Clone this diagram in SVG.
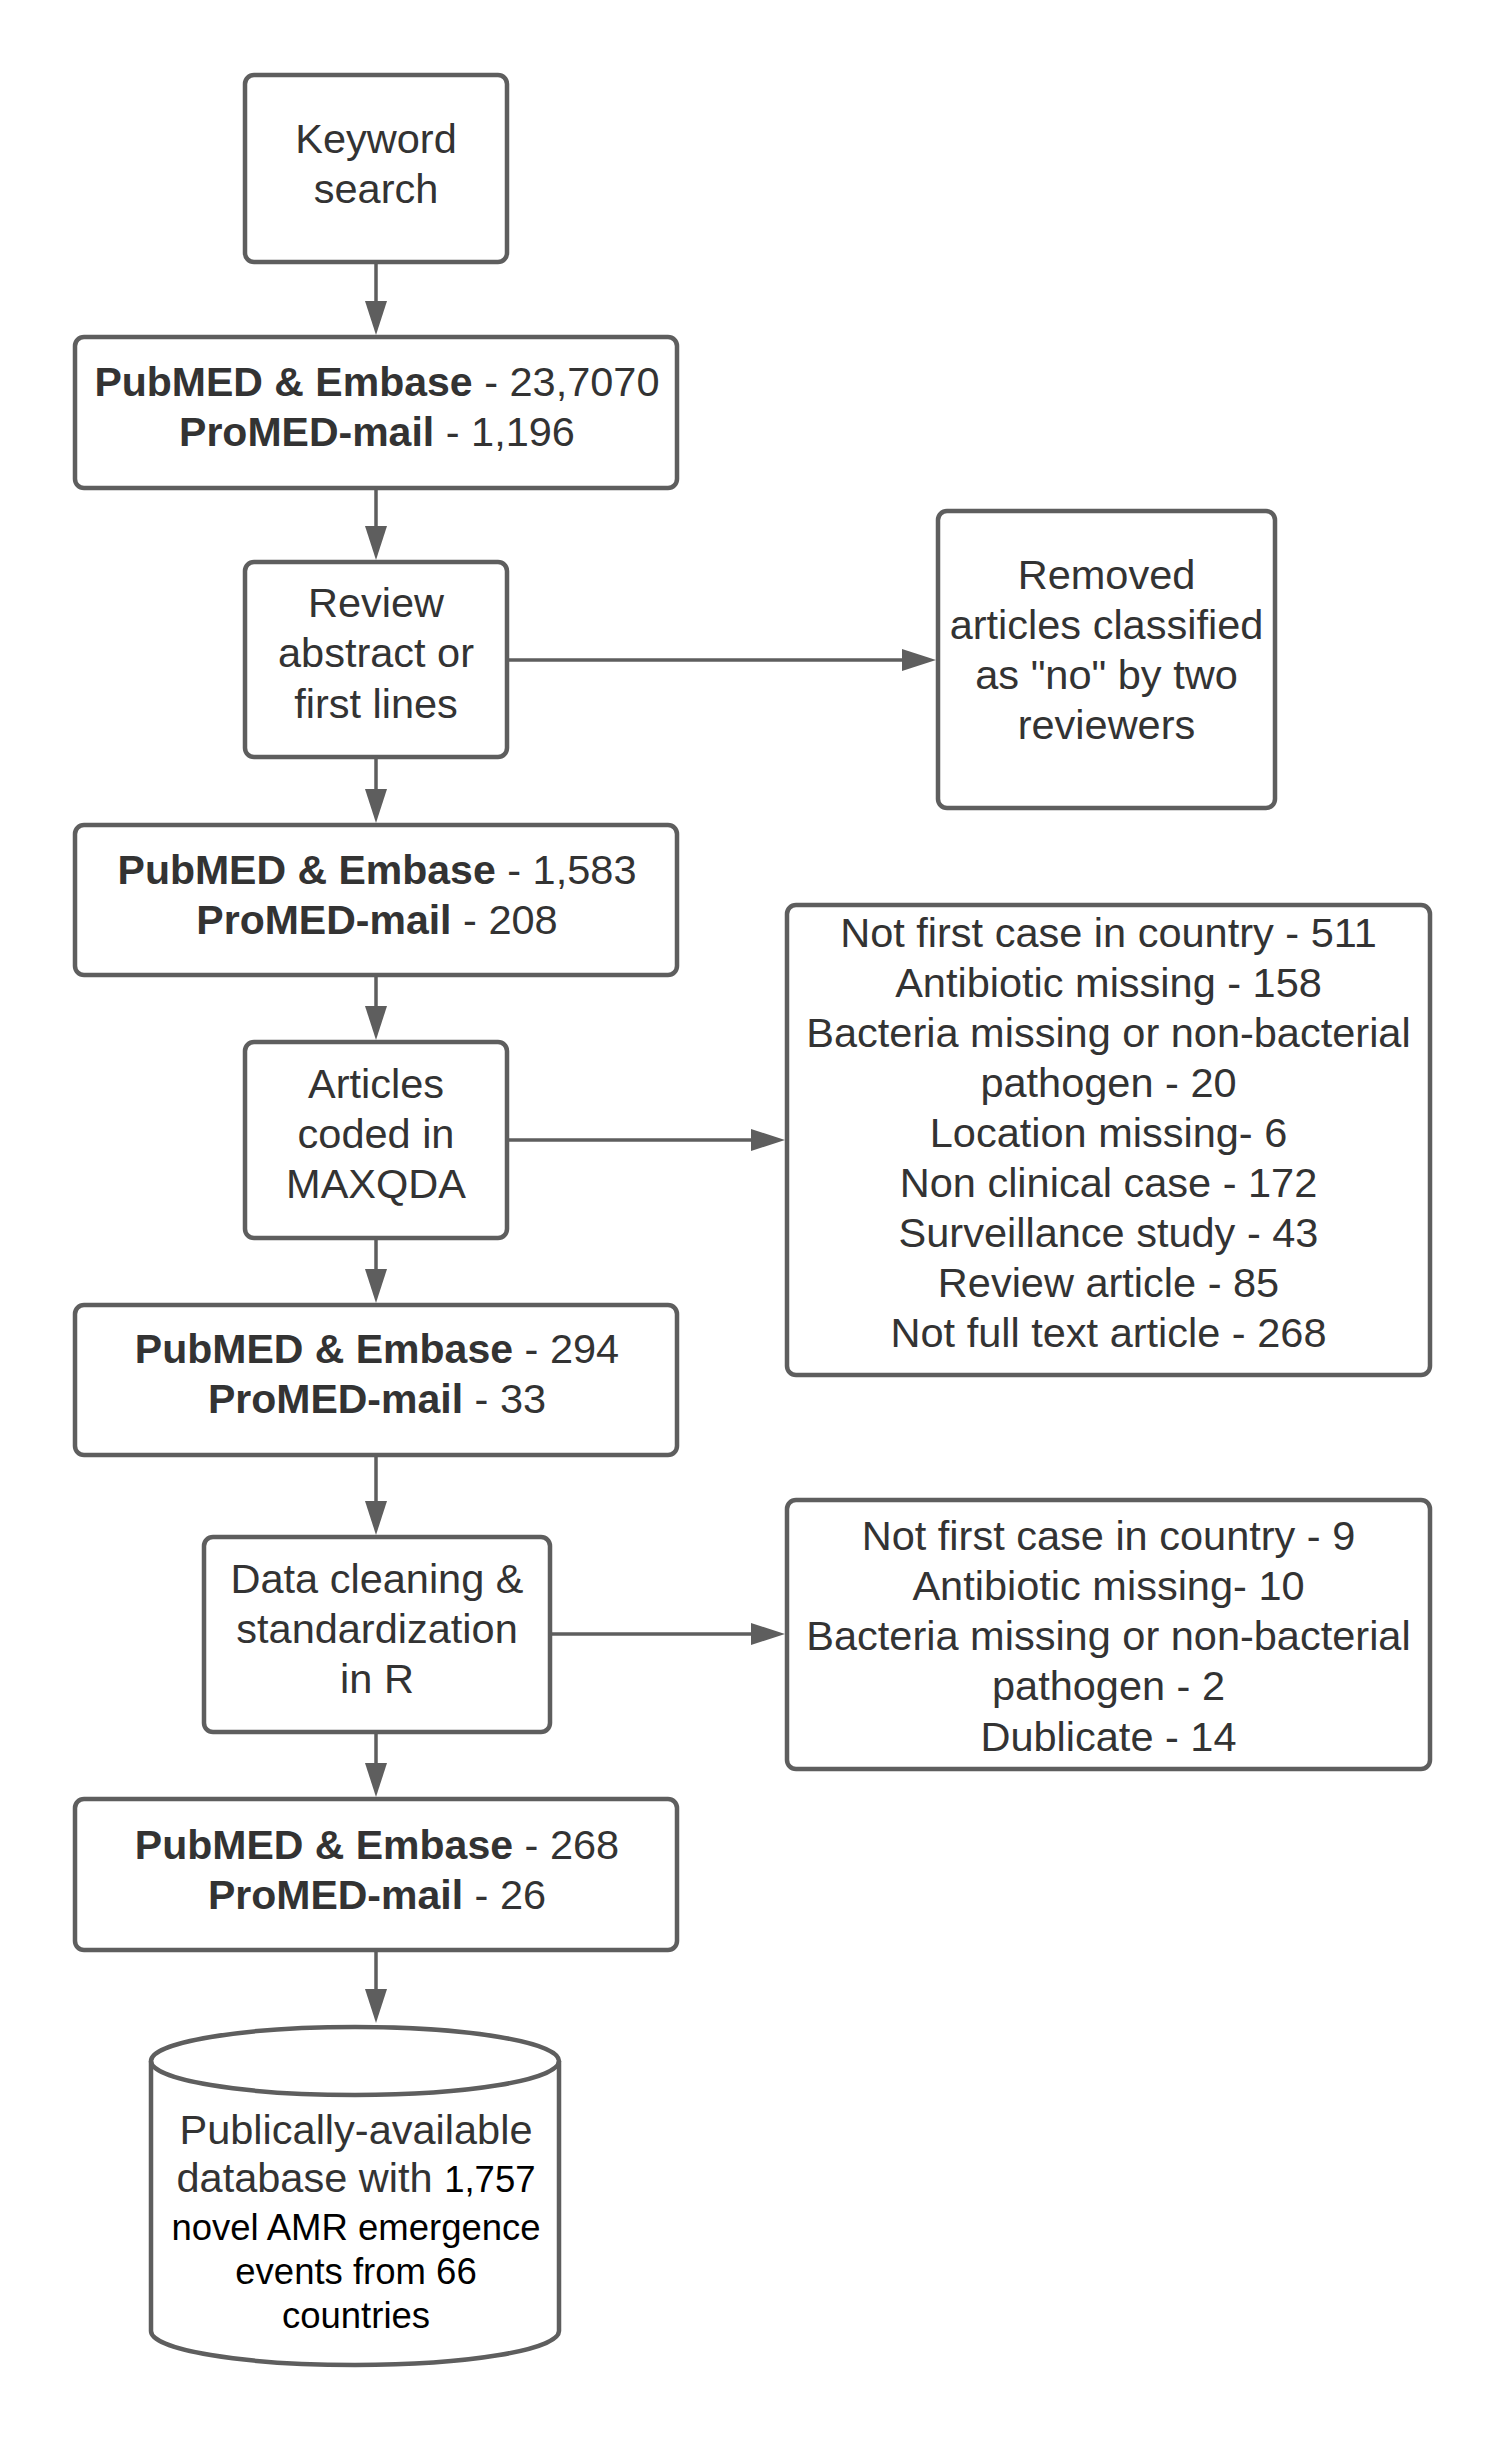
<svg xmlns="http://www.w3.org/2000/svg" width="1504" height="2438" viewBox="0 0 1504 2438">
<style>
.box{fill:#ffffff;stroke:#5e5e5e;stroke-width:4.5}
.ln{fill:none;stroke:#5e5e5e;stroke-width:3.5}
text{font-family:"Liberation Sans",Arial,sans-serif;font-size:41.5px;fill:#333333;text-anchor:middle}
.b{font-weight:bold;font-size:41px}
.k{fill:#000000;font-size:36.5px}
</style>
<defs>
<marker id="ah" markerUnits="userSpaceOnUse" markerWidth="34" markerHeight="22" refX="0" refY="11" orient="auto">
<path d="M0,0 L34,11 L0,22 Z" fill="#5e5e5e"/>
</marker>
</defs>
<rect width="1504" height="2438" fill="#ffffff"/>
<g id="connectors">
<line class="ln" x1="376" y1="264" x2="376" y2="301" marker-end="url(#ah)"/>
<line class="ln" x1="376" y1="490" x2="376" y2="526" marker-end="url(#ah)"/>
<line class="ln" x1="376" y1="759" x2="376" y2="789" marker-end="url(#ah)"/>
<line class="ln" x1="376" y1="977" x2="376" y2="1006" marker-end="url(#ah)"/>
<line class="ln" x1="376" y1="1240" x2="376" y2="1269" marker-end="url(#ah)"/>
<line class="ln" x1="376" y1="1457" x2="376" y2="1501" marker-end="url(#ah)"/>
<line class="ln" x1="376" y1="1734" x2="376" y2="1763" marker-end="url(#ah)"/>
<line class="ln" x1="376" y1="1952" x2="376" y2="1989" marker-end="url(#ah)"/>
<line class="ln" x1="509" y1="660" x2="902" y2="660" marker-end="url(#ah)"/>
<line class="ln" x1="509" y1="1140" x2="751" y2="1140" marker-end="url(#ah)"/>
<line class="ln" x1="552" y1="1634" x2="751" y2="1634" marker-end="url(#ah)"/>
</g>
<g id="keyword">
<rect class="box" x="245" y="75" width="262" height="187" rx="9"/>
<text x="376" y="153">Keyword</text>
<text x="376" y="203">search</text>
</g>
<g id="counts1">
<rect class="box" x="75" y="337" width="602" height="151" rx="9"/>
<text x="377" y="396"><tspan class="b">PubMED &amp; Embase</tspan> - 23,7070</text>
<text x="377" y="446"><tspan class="b">ProMED-mail</tspan> - 1,196</text>
</g>
<g id="review">
<rect class="box" x="245" y="562" width="262" height="195" rx="9"/>
<text x="376" y="617">Review</text>
<text x="376" y="667">abstract or</text>
<text x="376" y="718">first lines</text>
</g>
<g id="removed">
<rect class="box" x="938" y="511" width="337" height="297" rx="9"/>
<text x="1106.5" y="589">Removed</text>
<text x="1106.5" y="639">articles classified</text>
<text x="1106.5" y="689">as "no" by two</text>
<text x="1106.5" y="739">reviewers</text>
</g>
<g id="counts2">
<rect class="box" x="75" y="825" width="602" height="150" rx="9"/>
<text x="377" y="884"><tspan class="b">PubMED &amp; Embase</tspan> - 1,583</text>
<text x="377" y="934"><tspan class="b">ProMED-mail</tspan> - 208</text>
</g>
<g id="coded">
<rect class="box" x="245" y="1042" width="262" height="196" rx="9"/>
<text x="376" y="1098">Articles</text>
<text x="376" y="1148">coded in</text>
<text x="376" y="1198">MAXQDA</text>
</g>
<g id="excluded1">
<rect class="box" x="787" y="905" width="643" height="470" rx="9"/>
<text x="1108.5" y="947">Not first case in country - 511</text>
<text x="1108.5" y="997">Antibiotic missing - 158</text>
<text x="1108.5" y="1047">Bacteria missing or non-bacterial</text>
<text x="1108.5" y="1097">pathogen - 20</text>
<text x="1108.5" y="1147">Location missing- 6</text>
<text x="1108.5" y="1197">Non clinical case - 172</text>
<text x="1108.5" y="1247">Surveillance study - 43</text>
<text x="1108.5" y="1297">Review article - 85</text>
<text x="1108.5" y="1347">Not full text article - 268</text>
</g>
<g id="counts3">
<rect class="box" x="75" y="1305" width="602" height="150" rx="9"/>
<text x="377" y="1363"><tspan class="b">PubMED &amp; Embase</tspan> - 294</text>
<text x="377" y="1413"><tspan class="b">ProMED-mail</tspan> - 33</text>
</g>
<g id="cleaning">
<rect class="box" x="204" y="1537" width="346" height="195" rx="9"/>
<text x="377" y="1593">Data cleaning &amp;</text>
<text x="377" y="1643">standardization</text>
<text x="377" y="1693">in R</text>
</g>
<g id="excluded2">
<rect class="box" x="787" y="1500" width="643" height="269" rx="9"/>
<text x="1108.5" y="1550">Not first case in country - 9</text>
<text x="1108.5" y="1600">Antibiotic missing- 10</text>
<text x="1108.5" y="1650">Bacteria missing or non-bacterial</text>
<text x="1108.5" y="1700">pathogen - 2</text>
<text x="1108.5" y="1751">Dublicate - 14</text>
</g>
<g id="counts4">
<rect class="box" x="75" y="1799" width="602" height="151" rx="9"/>
<text x="377" y="1859"><tspan class="b">PubMED &amp; Embase</tspan> - 268</text>
<text x="377" y="1909"><tspan class="b">ProMED-mail</tspan> - 26</text>
</g>
<g id="database">
<path class="box" d="M151,2061 L151,2331 A204,34 0 0 0 559,2331 L559,2061 A204,34 0 0 0 151,2061 Z"/>
<path class="box" style="fill:none" d="M151,2061 A204,34 0 0 0 559,2061"/>
<text x="356" y="2144">Publically-available</text>
<text x="356" y="2192">database with <tspan class="k">1,757</tspan></text>
<text x="356" y="2240" class="k">novel AMR emergence</text>
<text x="356" y="2284" class="k">events from 66</text>
<text x="356" y="2328" class="k">countries</text>
</g>
</svg>
